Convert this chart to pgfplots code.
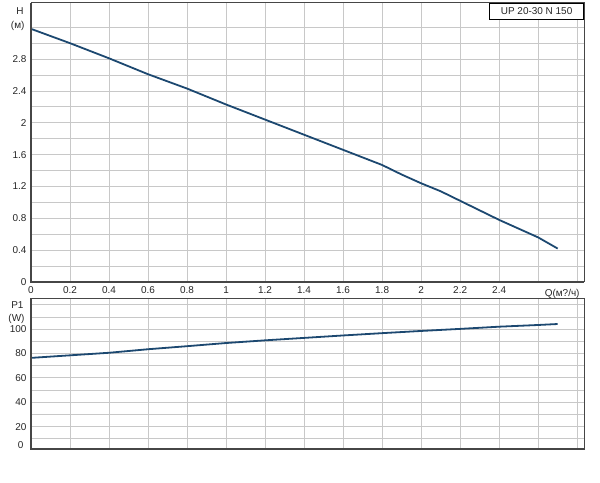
\documentclass[border=0pt]{standalone}
\usepackage{pgfplots}
\pgfplotsset{compat=1.18}
\usepackage{fontspec}
\setmainfont{Liberation Sans}
\definecolor{curve}{RGB}{28,72,112}
\definecolor{gridc}{RGB}{200,200,200}
\definecolor{framec}{RGB}{70,70,70}
\begin{document}
\begin{tikzpicture}[x=1bp,y=1bp]
\useasboundingbox (0,0) rectangle (600,483);
\pgfplotsset{
  every axis/.append style={
    scale only axis, width=553bp,
    xmin=0, xmax=2.835,
    xtick={0,0.2,...,2.81},
    grid=both,
    major grid style={draw=gridc, line width=0.8bp},
    minor grid style={draw=gridc, line width=0.8bp},
    major tick length=0pt, minor tick length=0pt,
    axis line style={draw=framec, line width=1bp},
    tick label style={font=\fontsize{10}{12}\selectfont, text=black!85},
    /pgf/number format/assume math mode=true,
    axis on top=false,
    clip=false,
  }
}
% ---------- top axis: head ----------
\begin{axis}[
  at={(31bp,201bp)}, anchor=south west,
  height=279bp,
  ymin=0, ymax=3.505,
  ytick={0,0.4,...,3.21},
  minor y tick num=1,
  xticklabels={0,0.2,0.4,0.6,0.8,1,1.2,1.4,1.6,1.8,2,2.2,2.4,{},{}},
  yticklabels={0,0.4,0.8,1.2,1.6,2,2.4,2.8,{}},
  xticklabel style={yshift=-1bp},
  yticklabel style={xshift=-1bp},
]
\addplot[curve, line width=1.8bp, line join=round] coordinates {
(0,3.18) (0.1,3.09) (0.2,3.00) (0.4,2.81) (0.6,2.61) (0.8,2.43)
(1.0,2.23) (1.2,2.04) (1.4,1.85) (1.6,1.66) (1.8,1.47) (1.9,1.35)
(2.0,1.24) (2.1,1.14) (2.2,1.02) (2.4,0.78) (2.6,0.56) (2.7,0.42)
};
\draw[framec, line width=1.6bp] (rel axis cs:0,1) -- (rel axis cs:0,0) -- (rel axis cs:1,0);
\node[anchor=east, font=\fontsize{10}{12}\selectfont, text=black!85] at ([xshift=-4bp]axis cs:0,3.4) {H};
\node[anchor=east, font=\fontsize{10}{12}\selectfont, text=black!85] at ([xshift=-3bp]axis cs:0,3.22) {(м)};
\node[anchor=north, font=\fontsize{10}{12}\selectfont, text=black!85] at ([yshift=-4bp]axis cs:2.723,0) {Q(м?/ч)};
\node[anchor=north east, draw=black, line width=0.8bp, fill=white, minimum width=94bp, minimum height=16bp, inner sep=1bp, font=\fontsize{10}{12}\selectfont, text=black!85] at (rel axis cs:1,1) {UP 20-30 N 150};
\end{axis}
% ---------- bottom axis: power ----------
\begin{axis}[
  at={(31bp,33.7bp)}, anchor=south west,
  height=151bp,
  ymin=1.4, ymax=125.3,
  ytick={0,20,...,120},
  minor y tick num=1,
  xticklabels={},
  yticklabels={{},20,40,60,80,100,{}},
  yticklabel style={xshift=-1bp},
]
\addplot[curve, line width=1.8bp, line join=round] coordinates {
(0,76.4) (0.2,78.5) (0.4,80.6) (0.6,83.5) (0.8,86.0) (1.0,88.6)
(1.2,90.8) (1.4,92.8) (1.6,94.8) (1.8,96.7) (2.0,98.5) (2.2,100.2)
(2.4,102.0) (2.6,103.4) (2.7,104.2)
};
\draw[framec, line width=1.6bp] (rel axis cs:0,1) -- (rel axis cs:0,0) -- (rel axis cs:1,0);
\node[anchor=east, font=\fontsize{10}{12}\selectfont, text=black!85] at ([xshift=-4bp]axis cs:0,5) {0};
\node[anchor=east, font=\fontsize{10}{12}\selectfont, text=black!85] at ([xshift=-4bp]axis cs:0,120) {P1};
\node[anchor=east, font=\fontsize{10}{12}\selectfont, text=black!85] at ([xshift=-3bp]axis cs:0,108.5) {(W)};
\end{axis}
\end{tikzpicture}
\end{document}
